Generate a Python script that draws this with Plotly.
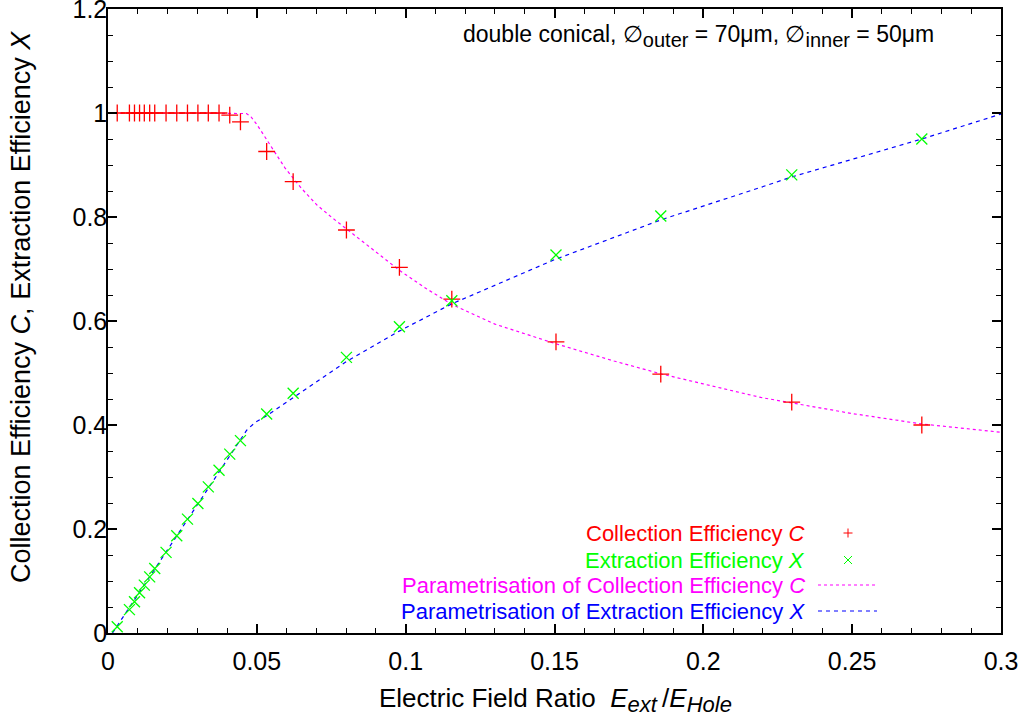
import plotly.graph_objects as go

# ---- data ----
ratio = [0.0031, 0.0072, 0.0089, 0.0106, 0.0122, 0.0140, 0.0157, 0.0195, 0.0231,
         0.0267, 0.0302, 0.0337, 0.0373, 0.0409, 0.0445, 0.0533, 0.0622, 0.0801,
         0.0979, 0.1155, 0.1505, 0.1857, 0.2297, 0.2734]
collection = [1.0, 1.0, 1.0, 1.0, 1.0, 1.0, 1.0, 1.0, 1.0, 1.0, 1.0, 1.0, 1.0,
              0.996, 0.983, 0.926, 0.868, 0.775, 0.703, 0.642, 0.560, 0.498, 0.444, 0.400]
extraction = [0.012, 0.045, 0.060, 0.0775, 0.092, 0.108, 0.124, 0.155, 0.187, 0.219,
              0.249, 0.281, 0.313, 0.344, 0.370, 0.421, 0.461, 0.530, 0.589, 0.639,
              0.727, 0.802, 0.881, 0.950]

param_c_x = [0.0, 0.02, 0.04, 0.045, 0.0465, 0.0480, 0.050, 0.0534, 0.0565, 0.0595,
             0.065, 0.0702, 0.075, 0.0801, 0.090, 0.098, 0.107, 0.1155, 0.13, 0.15,
             0.17, 0.186, 0.20, 0.2193, 0.25, 0.2734, 0.30]
param_c_y = [1.0, 1.0, 1.0, 1.0, 0.999, 0.993, 0.978, 0.948, 0.920, 0.894,
             0.855, 0.823, 0.800, 0.777, 0.733, 0.697, 0.662, 0.632, 0.594, 0.557,
             0.523, 0.498, 0.479, 0.453, 0.422, 0.402, 0.386]

param_x_x = [0.0015, 0.0444, 0.0466, 0.0494, 0.0534, 0.0579, 0.0679, 0.0801, 0.098,
             0.1155, 0.15, 0.186, 0.2193, 0.2297, 0.2734, 0.30]
param_x_y = [0.0, 0.370, 0.390, 0.405, 0.418, 0.436, 0.475, 0.522, 0.581,
             0.633, 0.718, 0.795, 0.857, 0.877, 0.950, 0.998]

x_ticks = [0, 0.05, 0.1, 0.15, 0.2, 0.25, 0.3]
x_tick_labels = ["0", "0.05", "0.1", "0.15", "0.2", "0.25", "0.3"]
y_ticks = [0, 0.2, 0.4, 0.6, 0.8, 1.0, 1.2]
y_tick_labels = ["0", "0.2", "0.4", "0.6", "0.8", "1", "1.2"]

legend_labels = ["Collection Efficiency <i>C</i>",
                 "Extraction Efficiency <i>X</i>",
                 "Parametrisation of Collection Efficiency <i>C</i>",
                 "Parametrisation of Extraction Efficiency <i>X</i>"]

RED, GREEN, MAGENTA, BLUE = "#ff0000", "#00ff00", "#ff00ff", "#0000ff"
FONT = "Liberation Sans, Arial, Helvetica, sans-serif"
FS_TICK = 25
FS_LEG = 22


def sub(t, size=20):
    return '<sub><span style="font-size:%dpx">%s</span></sub>' % (size, t)


fig = go.Figure()
fig.add_trace(go.Scatter(x=param_c_x, y=param_c_y, mode="lines",
                         line=dict(color=MAGENTA, width=1.2, dash="dot"),
                         showlegend=False))
fig.add_trace(go.Scatter(x=param_x_x, y=param_x_y, mode="lines",
                         line=dict(color=BLUE, width=1.2, dash="4px,4px"),
                         showlegend=False))
fig.add_trace(go.Scatter(x=ratio, y=collection, mode="markers",
                         marker=dict(symbol="cross-thin", size=12,
                                     line=dict(color=RED, width=1.3)),
                         showlegend=False))
fig.add_trace(go.Scatter(x=ratio, y=extraction, mode="markers",
                         marker=dict(symbol="x-thin", size=11,
                                     line=dict(color=GREEN, width=1.3)),
                         showlegend=False))

# plot area geometry (pixels) for placing paper-referenced legend pieces
L, R, T, B = 108, 1001, 9, 633
W, H = R - L, B - T


def px(xp):
    return (xp - L) / W


def py(yp):
    return (B - yp) / H


annotations = []
shapes = []
row_y = [533, 560, 585, 611]
text_colors = [RED, GREEN, MAGENTA, BLUE]
for lab, col, yy in zip(legend_labels, text_colors, row_y):
    annotations.append(dict(xref="paper", yref="paper", x=px(807), y=py(yy),
                            xanchor="right", yanchor="middle", text=lab,
                            showarrow=False, font=dict(family=FONT, size=FS_LEG, color=col)))

# legend key: "+" and "x" glyphs, dotted and dashed lines
cx, s = 848, 4.5
shapes.append(dict(type="line", xref="paper", yref="paper", x0=px(cx - s), x1=px(cx + s),
                   y0=py(row_y[0]), y1=py(row_y[0]), line=dict(color=RED, width=1)))
shapes.append(dict(type="line", xref="paper", yref="paper", x0=px(cx), x1=px(cx),
                   y0=py(row_y[0] - s), y1=py(row_y[0] + s), line=dict(color=RED, width=1)))
s2 = 4
shapes.append(dict(type="line", xref="paper", yref="paper", x0=px(cx - s2), x1=px(cx + s2),
                   y0=py(row_y[1] - s2), y1=py(row_y[1] + s2), line=dict(color=GREEN, width=1)))
shapes.append(dict(type="line", xref="paper", yref="paper", x0=px(cx - s2), x1=px(cx + s2),
                   y0=py(row_y[1] + s2), y1=py(row_y[1] - s2), line=dict(color=GREEN, width=1)))
shapes.append(dict(type="line", xref="paper", yref="paper", x0=px(818), x1=px(877),
                   y0=py(row_y[2]), y1=py(row_y[2]),
                   line=dict(color=MAGENTA, width=1.2, dash="dot")))
shapes.append(dict(type="line", xref="paper", yref="paper", x0=px(818), x1=px(877),
                   y0=py(row_y[3]), y1=py(row_y[3]),
                   line=dict(color=BLUE, width=1.2, dash="4px,4px")))

# title-like annotation inside the plot
annotations.append(dict(xref="paper", yref="paper", x=px(936), y=py(36),
                        xanchor="right", yanchor="middle", showarrow=False,
                        text="double conical, \u2205" + sub("outer") + " = 70\u03bcm, "
                             "\u2205" + sub("inner") + " = 50\u03bcm",
                        font=dict(family=FONT, size=23, color="black")))

# axis titles
annotations.append(dict(xref="paper", yref="paper", x=px(555), y=py(700),
                        xanchor="center", yanchor="middle", showarrow=False,
                        text="Electric Field Ratio\u00a0\u00a0<i>E" + sub("ext", 22) +
                             "</i>\u2009/<i>E" + sub("Hole", 22) + "</i>",
                        font=dict(family=FONT, size=26, color="black")))
annotations.append(dict(xref="paper", yref="paper", x=px(21), y=py(307),
                        xanchor="center", yanchor="middle", showarrow=False, textangle=-90,
                        text="Collection Efficiency <i>C</i>, Extraction Efficiency <i>X</i>",
                        font=dict(family=FONT, size=27, color="black")))

axis_common = dict(showgrid=False, zeroline=False, showline=True, linecolor="black",
                   linewidth=1.5, mirror="ticks", ticks="inside", tickcolor="black",
                   tickwidth=1.5, ticklen=9, automargin=False,
                   ticklabeloverflow="allow",
                   tickfont=dict(family=FONT, size=FS_TICK, color="black"))

fig.update_layout(
    width=1024, height=723,
    margin=dict(l=L, r=1024 - R, t=T, b=723 - B, autoexpand=False),
    paper_bgcolor="white", plot_bgcolor="white",
    showlegend=False,
    xaxis=dict(range=[0, 0.3], tickvals=x_ticks, ticktext=x_tick_labels,
               ticklabelstandoff=5,
               minor=dict(ticks="inside", dtick=0.01, ticklen=5, tickcolor="black",
                          tickwidth=1.2, showgrid=False),
               **axis_common),
    yaxis=dict(range=[0, 1.2], tickvals=y_ticks, ticktext=y_tick_labels,
               ticklabelstandoff=-6,
               minor=dict(ticks="inside", dtick=0.05, ticklen=5, tickcolor="black",
                          tickwidth=1.2, showgrid=False),
               **axis_common),
    annotations=annotations,
    shapes=shapes,
)

fig.write_html("out.html", config={"displayModeBar": False},
               post_script="document.body.style.margin='0';document.body.style.padding='0';")
